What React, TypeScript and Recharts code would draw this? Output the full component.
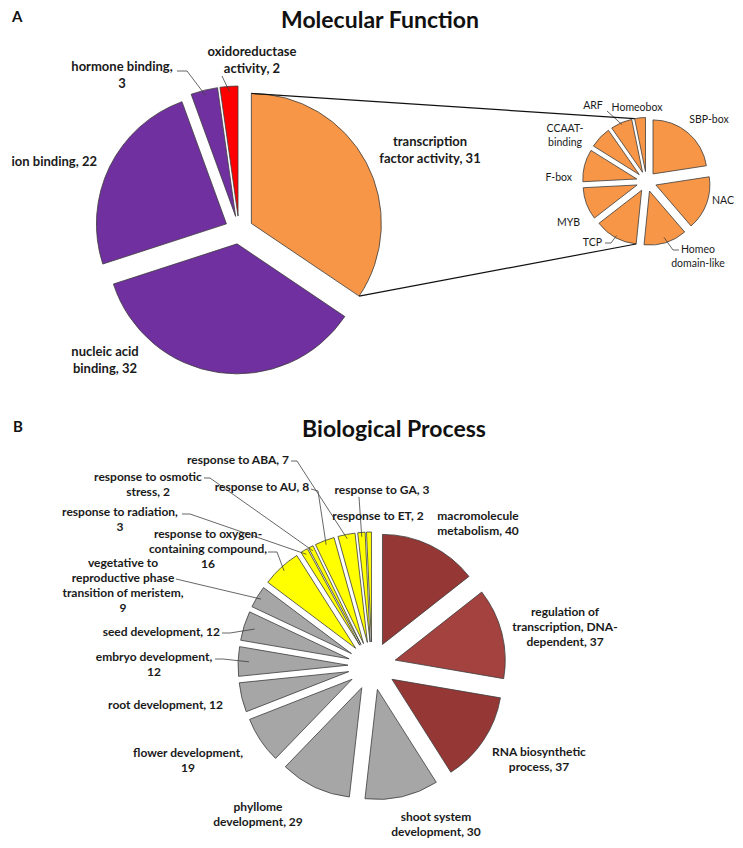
import React from "react";
import { PieChart, Pie, Sector } from "recharts";

// A: Molecular Function
const mfNames = [
  "transcription factor activity",
  "nucleic acid binding",
  "ion binding",
  "hormone binding",
  "oxidoreductase activity",
];
const mfValues = [31, 32, 22, 3, 2];

// breakdown of the transcription factor slice
const tfNames = ["SBP-box", "NAC", "Homeo domain-like", "TCP", "MYB", "F-box", "CCAAT-binding", "ARF", "Homeobox"];
const tfValues = [7, 5, 4, 4, 3, 3, 2, 2, 1];

// B: Biological Process
const bpNames = [
  "macromolecule metabolism",
  "regulation of transcription, DNA-dependent",
  "RNA biosynthetic process",
  "shoot system development",
  "phyllome development",
  "flower development",
  "root development",
  "embryo development",
  "seed development",
  "vegetative to reproductive phase transition of meristem",
  "response to oxygen-containing compound",
  "response to radiation",
  "response to osmotic stress",
  "response to AU",
  "response to ABA",
  "response to GA",
  "response to ET",
];
const bpValues = [40, 37, 37, 30, 29, 19, 12, 12, 12, 9, 16, 3, 2, 8, 7, 3, 2];

const PURPLE = "#7030A0";
const ORANGE = "#F79646";
const GRAY = "#A6A6A6";
const YELLOW = "#FFFF00";
const mfColors = [ORANGE, PURPLE, PURPLE, PURPLE, "#FF0000"];
const tfColors = tfValues.map(() => ORANGE);
const bpColors = ["#953735", "#A3423F", "#953735", GRAY, GRAY, GRAY, GRAY, GRAY, GRAY, GRAY, YELLOW, YELLOW, YELLOW, YELLOW, YELLOW, YELLOW, YELLOW];

const FONT = "Lato, 'Open Sans', sans-serif";
const EDGE = "#3c3c3c";

const MF = { cx: 239, cy: 230, r: 130, explode: 14, size: 13, weight: 700, lh: 17 };
const TF = { cx: 646.5, cy: 181.5, r: 54, explode: 10, size: 10.5, weight: 400, lh: 13.5 };
const BP = { cx: 372, cy: 666, r: 110, explode: 24, size: 12, weight: 700, lh: 15 };

type Spot = { x: number; y: number; anchor: string; wrap: number[]; leader?: number[][]; tip?: number };

const mfSpots: Spot[] = [
  { x: 430, y: 146, anchor: "middle", wrap: [1, 3] },
  { x: 105, y: 356, anchor: "middle", wrap: [2, 2] },
  { x: 97, y: 166, anchor: "end", wrap: [3] },
  { x: 122, y: 71, anchor: "middle", wrap: [2, 1], leader: [[177, 71], [187, 71]] },
  { x: 252, y: 56, anchor: "middle", wrap: [1, 2], leader: [[222, 76]] },
];

const tfSpots: Spot[] = [
  { x: 709, y: 123, anchor: "middle", wrap: [2] },
  { x: 723, y: 204, anchor: "middle", wrap: [1] },
  { x: 698, y: 253, anchor: "middle", wrap: [1, 2], leader: [[679, 250], [673, 250]], tip: 0.9 },
  { x: 602, y: 246, anchor: "end", wrap: [1], leader: [[605, 243], [611, 243]] },
  { x: 580, y: 226, anchor: "end", wrap: [1] },
  { x: 572, y: 181, anchor: "end", wrap: [2] },
  { x: 565, y: 132, anchor: "middle", wrap: [1, 1] },
  { x: 593, y: 109, anchor: "middle", wrap: [1], leader: [[607, 111]] },
  { x: 637, y: 111, anchor: "middle", wrap: [1] },
];

const bpSpots: Spot[] = [
  { x: 478, y: 520, anchor: "middle", wrap: [1, 2] },
  { x: 565, y: 616, anchor: "middle", wrap: [2, 2, 2] },
  { x: 539, y: 756, anchor: "middle", wrap: [2, 2] },
  { x: 436, y: 821, anchor: "middle", wrap: [2, 2] },
  { x: 258, y: 811, anchor: "middle", wrap: [1, 2] },
  { x: 188, y: 757, anchor: "middle", wrap: [2, 1] },
  { x: 223, y: 709, anchor: "end", wrap: [3] },
  { x: 154, y: 661, anchor: "middle", wrap: [2, 1], leader: [[215, 659], [223, 659]], tip: 0.9 },
  { x: 220, y: 636, anchor: "end", wrap: [3], leader: [[222, 633], [230, 633]], tip: 0.9 },
  { x: 123, y: 567, anchor: "middle", wrap: [2, 2, 3, 1], leader: [[176, 579]] },
  { x: 208, y: 538, anchor: "middle", wrap: [3, 2, 1], leader: [[268, 552], [277, 552]] },
  { x: 120, y: 516, anchor: "middle", wrap: [3, 1], leader: [[182, 514], [190, 514]] },
  { x: 148, y: 481, anchor: "middle", wrap: [3, 2], leader: [[204, 478], [210, 478]] },
  { x: 262, y: 491, anchor: "middle", wrap: [4], leader: [[311, 489], [318, 491]] },
  { x: 238, y: 464, anchor: "middle", wrap: [4], leader: [[291, 461], [297, 461]] },
  { x: 382, y: 494, anchor: "middle", wrap: [4], leader: [[359, 497]] },
  { x: 378, y: 520, anchor: "middle", wrap: [4] },
];

const RAD = Math.PI / 180;
const polar = (cx: number, cy: number, r: number, a: number) => ({
  x: cx + r * Math.cos(-a * RAD),
  y: cy + r * Math.sin(-a * RAD),
});

// same angle layout the Pie uses (clockwise from 12 o'clock)
function sliceAngles(values: number[]) {
  const total = values.reduce((a, b) => a + b, 0);
  let a = 90;
  return values.map((v) => {
    const start = a;
    a -= (360 * v) / total;
    return { start, end: a, mid: (start + a) / 2 };
  });
}

function wrapText(text: string, wrap: number[]) {
  const tokens = text.split(/(?<=-)| /);
  const lines: string[] = [];
  let i = 0;
  wrap.forEach((n) => {
    const part = tokens.slice(i, i + n);
    i += n;
    lines.push(part.reduce((acc, t) => (acc === "" ? t : acc.endsWith("-") ? acc + t : acc + " " + t), ""));
  });
  return lines;
}

const orange = sliceAngles(mfValues)[0];
const orangeOff = polar(0, 0, MF.explode, orange.mid);
const orangeTop = polar(MF.cx + orangeOff.x, MF.cy + orangeOff.y, MF.r, orange.start);
const orangeBottom = polar(MF.cx + orangeOff.x, MF.cy + orangeOff.y, MF.r, orange.end);

function makeRenderer(geo: any, spots: Spot[], colors: string[], withValue: boolean, extra?: (p: any, ox: number, oy: number) => any) {
  return (props: any) => {
    const { cx, cy, outerRadius, startAngle, endAngle, index } = props;
    const item = props.payload?.payload ?? props.payload ?? props;
    const mid = (startAngle + endAngle) / 2;
    const off = polar(0, 0, geo.explode, mid);
    const ox = cx + off.x;
    const oy = cy + off.y;
    const spot = spots[index];
    const text = withValue ? `${item.name}, ${item.value}` : item.name;
    const lines = wrapText(text, spot.wrap);
    let leader = null;
    if (spot.leader) {
      const tip = polar(ox, oy, outerRadius * (spot.tip ?? 0.96), mid);
      const pts = [...spot.leader, [tip.x, tip.y]].map((p) => p.join(",")).join(" ");
      leader = <polyline points={pts} fill="none" stroke="#404040" strokeWidth={0.8} />;
    }
    return (
      <g key={`lbl-${index}`}>
        <Sector
          cx={ox}
          cy={oy}
          innerRadius={0}
          outerRadius={outerRadius}
          startAngle={startAngle}
          endAngle={endAngle}
          fill={colors[index]}
          stroke={EDGE}
          strokeWidth={0.8}
        />
        {extra ? extra(props, ox, oy) : null}
        {leader}
        <text
          x={spot.x}
          y={spot.y}
          textAnchor={spot.anchor as any}
          fontFamily={FONT}
          fontSize={geo.size}
          fontWeight={geo.weight}
          fill="#1a1a1a"
        >
          {lines.map((l, k) => (
            <tspan key={k} x={spot.x} y={spot.y + k * geo.lh}>
              {l}
            </tspan>
          ))}
        </text>
      </g>
    );
  };
}

// connector lines from the orange slice to the breakdown pie
const tfConnector = (p: any, ox: number, oy: number) => {
  if (p.index !== tfValues.length - 1 && p.index !== 3) return null;
  const c = polar(ox, oy, p.outerRadius, p.startAngle);
  const target = p.index === 3 ? orangeBottom : orangeTop;
  return <line x1={target.x} y1={target.y} x2={c.x} y2={c.y} stroke="#111" strokeWidth={1.2} />;
};

const mfData = mfNames.map((name, i) => ({ name, value: mfValues[i] }));
const tfData = tfNames.map((name, i) => ({ name, value: tfValues[i] }));
const bpData = bpNames.map((name, i) => ({ name, value: bpValues[i] }));

export default function App() {
  return (
    <div style={{ position: "absolute", left: 0, top: 0, width: 743, height: 848, background: "#fff" }}>
      <PieChart width={743} height={848} margin={{ top: 0, right: 0, bottom: 0, left: 0 }}>
        <Pie
          data={mfData}
          dataKey="value"
          nameKey="name"
          cx={MF.cx}
          cy={MF.cy}
          outerRadius={MF.r}
          startAngle={90}
          endAngle={-270}
          fill="transparent"
          stroke="none"
          labelLine={false}
          label={makeRenderer(MF, mfSpots, mfColors, true)}
          isAnimationActive={false}
        />
        <Pie
          data={tfData}
          dataKey="value"
          nameKey="name"
          cx={TF.cx}
          cy={TF.cy}
          outerRadius={TF.r}
          startAngle={90}
          endAngle={-270}
          fill="transparent"
          stroke="none"
          labelLine={false}
          label={makeRenderer(TF, tfSpots, tfColors, false, tfConnector)}
          isAnimationActive={false}
        />
        <Pie
          data={bpData}
          dataKey="value"
          nameKey="name"
          cx={BP.cx}
          cy={BP.cy}
          outerRadius={BP.r}
          startAngle={90}
          endAngle={-270}
          fill="transparent"
          stroke="none"
          labelLine={false}
          label={makeRenderer(BP, bpSpots, bpColors, true)}
          isAnimationActive={false}
        />
      </PieChart>
      <svg width={743} height={848} style={{ position: "absolute", left: 0, top: 0, pointerEvents: "none" }}>
        <g fontFamily={FONT} fontWeight={700} fill="#111">
          <text x={12} y={22} fontSize={15}>A</text>
          <text x={380} y={28} fontSize={23} textAnchor="middle">Molecular Function</text>
          <text x={13} y={432} fontSize={15}>B</text>
          <text x={394} y={437} fontSize={23} textAnchor="middle">Biological Process</text>
        </g>
      </svg>
    </div>
  );
}
